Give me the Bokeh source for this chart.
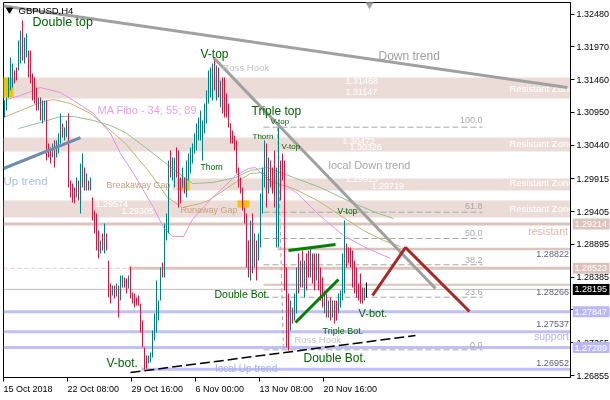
from bokeh.plotting import figure
from bokeh.models import Range1d, FixedTicker, NumeralTickFormatter
from bokeh.core.properties import value
from bokeh.embed import file_html
from bokeh.resources import INLINE

FONT = "Liberation Sans"

# ---------------- data: H4 bars (high / low / direction) ----------------
highs = [1.31134, 1.31181, 1.31492, 1.31803, 1.31710, 1.31601, 1.31647, 1.32068, 1.32223, 1.32379,
         1.32114, 1.32177, 1.31912, 1.31912, 1.31554, 1.31492, 1.31336, 1.31181, 1.31181, 1.31134,
         1.31134, 1.31134, 1.30465, 1.30403, 1.30465, 1.30512, 1.30512, 1.30621, 1.30932, 1.30776,
         1.30714, 1.30823, 1.30932, 1.29889, 1.29843, 1.29780, 1.29936, 1.29889, 1.30154, 1.30309,
         1.30091, 1.29998, 1.29889, 1.29936, 1.29625, 1.29422, 1.29376, 1.29111, 1.28956, 1.29065,
         1.29220, 1.29065, 1.28644, 1.28287, 1.28255, 1.28255, 1.28287, 1.28255, 1.28411, 1.28411,
         1.28380, 1.28364, 1.28411, 1.28551, 1.28147, 1.28131, 1.28069, 1.28100, 1.27975, 1.27711,
         1.27291, 1.27166, 1.27166, 1.27213, 1.27555, 1.27820, 1.28333, 1.28022, 1.28535, 1.28613,
         1.29220, 1.29376, 1.30200, 1.30356, 1.30247, 1.30247, 1.30403, 1.30356, 1.29936, 1.30091,
         1.29936, 1.30200, 1.30309, 1.30403, 1.30465, 1.30621, 1.30776, 1.30869, 1.30978, 1.30823,
         1.31087, 1.31290, 1.31601, 1.31647, 1.31710, 1.31772, 1.31679, 1.31647, 1.31445, 1.31492,
         1.31492, 1.31243, 1.31087, 1.30776, 1.30667, 1.30589, 1.30512, 1.30091, 1.29936, 1.29780,
         1.29469, 1.29376, 1.28956, 1.29267, 1.29376, 1.29065, 1.28956, 1.29065, 1.29687, 1.30091,
         1.30512, 1.30465, 1.30247, 1.30200, 1.30091, 1.30356, 1.30091, 1.30714, 1.30200, 1.30309,
         1.30200, 1.28535, 1.28131, 1.28022, 1.27913, 1.28131, 1.28535, 1.28753, 1.28644, 1.28800,
         1.28644, 1.28753, 1.28800, 1.28847, 1.28753, 1.28753, 1.28753, 1.28753, 1.28535, 1.28380,
         1.28178, 1.28131, 1.28022, 1.28069, 1.28022, 1.28022, 1.28022, 1.28131, 1.28178, 1.28753,
         1.29267, 1.28909, 1.28847, 1.28847, 1.28800, 1.28644, 1.28535, 1.28287, 1.28442, 1.28224,
         1.28224, 1.28302]
lows = [1.30869, 1.30978, 1.31181, 1.31290, 1.31336, 1.31399, 1.31445, 1.31601, 1.31710, 1.31756,
        1.31710, 1.31803, 1.31492, 1.31399, 1.31134, 1.31087, 1.30978, 1.30978, 1.30823, 1.30776,
        1.30823, 1.30200, 1.30247, 1.30154, 1.30247, 1.30091, 1.30247, 1.30309, 1.30465, 1.30558,
        1.30512, 1.30558, 1.29780, 1.29625, 1.29547, 1.29531, 1.29625, 1.29578, 1.29376, 1.29780,
        1.29734, 1.29734, 1.29734, 1.29734, 1.29267, 1.29065, 1.28800, 1.28676, 1.28753, 1.28800,
        1.28753, 1.28800, 1.28069, 1.27975, 1.28100, 1.28053, 1.28084, 1.27757, 1.28022, 1.28224,
        1.28224, 1.28131, 1.28209, 1.28053, 1.27975, 1.27913, 1.27944, 1.27944, 1.27524, 1.27291,
        1.26948, 1.26964, 1.27042, 1.27057, 1.27135, 1.27400, 1.27524, 1.27711, 1.28022, 1.28380,
        1.28380, 1.28956, 1.29065, 1.29936, 1.29889, 1.29780, 1.29936, 1.29469, 1.29531, 1.29780,
        1.29687, 1.29625, 1.29889, 1.29998, 1.30154, 1.30309, 1.30356, 1.30512, 1.30512, 1.30200,
        1.30621, 1.30776, 1.31087, 1.31181, 1.31134, 1.31290, 1.31134, 1.31181, 1.31025, 1.30932,
        1.30869, 1.30869, 1.30714, 1.30465, 1.30465, 1.30356, 1.29998, 1.29780, 1.29687, 1.29422,
        1.29220, 1.28535, 1.28380, 1.28333, 1.28442, 1.28535, 1.28333, 1.28644, 1.28847, 1.29376,
        1.29780, 1.29469, 1.29687, 1.29780, 1.29687, 1.29469, 1.28847, 1.28847, 1.29578, 1.29889,
        1.28178, 1.27291, 1.27244, 1.27555, 1.27664, 1.27711, 1.27820, 1.28131, 1.28224, 1.28224,
        1.28069, 1.28178, 1.28380, 1.28380, 1.28287, 1.28178, 1.28333, 1.28178, 1.28022, 1.27913,
        1.27820, 1.27757, 1.27757, 1.27711, 1.27757, 1.27664, 1.27711, 1.27820, 1.27913, 1.28022,
        1.28131, 1.28535, 1.28598, 1.28535, 1.28224, 1.28131, 1.28069, 1.28022, 1.27975, 1.27975,
        1.28022, 1.28069]
directions = list("uuuuudduud" "uudddddudu" "uddduduuud" "uudddduduu" "dududdddud"
                  "udddududuu" "dduddddddd" "dduuuuuuud" "uuuduudddu" "duuuuuuuuu"
                  "uuuuududud" "dddddddddd" "dddududuuu" "ududdduudd" "ddduduudud"
                  "uddudduddd" "udududduuu" "uddddddddd" "uu")

# x-axis: period starts (bar slot edges) and their labels
x_tick_pos = [-0.5, 31.5, 63.5, 95.5, 127.5, 159.5]
x_tick_labels = ["15 Oct 2018", "22 Oct 08:00", "29 Oct 16:00", "6 Nov 00:00", "13 Nov 08:00", "20 Nov 16:00"]
y_ticks = [1.32480, 1.31970, 1.31460, 1.30950, 1.30440, 1.29915, 1.29405, 1.28895, 1.28385,
           1.27875, 1.27365, 1.26855]

# moving averages (MA Fibo 34 / 55 / 89): (bar index, price)
ma34_x = [-0.5, 8, 18, 28, 34.5, 44.5, 53, 58, 64.5, 74.5, 79.5, 84, 89.5, 94, 98, 104, 110.5, 115.5,
          122, 125.5, 132, 141.5, 146.5, 156.5, 169.5, 179.5, 193]
ma34_y = [1.31134, 1.31212, 1.31336, 1.31258, 1.31134, 1.30932, 1.30621, 1.30309, 1.29998, 1.29469,
          1.29158, 1.29018, 1.29018, 1.29282, 1.29422, 1.29625, 1.29811, 1.29967, 1.30076, 1.30091,
          1.29889, 1.29796, 1.29687, 1.29376, 1.29033, 1.28862, 1.28676]
ma55_x = [-0.5, 8, 18, 24.5, 33, 43, 53, 60.5, 73, 81.5, 89, 98, 102, 115.5, 123, 129, 134, 144.5,
          156.5, 169.5, 179.5, 189.5, 198]
ma55_y = [1.30869, 1.30978, 1.31103, 1.31150, 1.31087, 1.30932, 1.30667, 1.30465, 1.29998, 1.29625,
          1.29469, 1.29531, 1.29578, 1.29858, 1.29998, 1.30014, 1.29858, 1.29765, 1.29578, 1.29313,
          1.29111, 1.28956, 1.28862]
ma89_x = [7, 18, 28, 34.5, 44.5, 53, 60.5, 70.5, 82, 94, 104, 115.5, 123, 131.5, 144.5, 158, 171.5,
          185.5, 194.5]
ma89_y = [1.30698, 1.30792, 1.30885, 1.30885, 1.30823, 1.30745, 1.30636, 1.30403, 1.30123, 1.29843,
          1.29858, 1.29936, 1.30045, 1.30091, 1.29936, 1.29780, 1.29578, 1.29391, 1.29298]

# resistance zones: left, right (bar index), bottom, top (price)
zone_left = [-0.5, -0.5, 84, -0.5]
zone_right = [283, 283, 283, 283]
zone_bottom = [1.31165, 1.30340, 1.29734, 1.29313]
zone_top = [1.31492, 1.30558, 1.29920, 1.29578]
zone_label_y = [1.31321, 1.30465, 1.29858, 1.29458]
zone_price_text = ["1.31468", "1.31147", "1.30472", "1.30326", "1.29915", "1.29719", "1.29574", "1.29305"]
zone_price_x = [170.5, 170.5, 169, 172.5, 170.5, 183.5, 45.5, 58.5]
zone_price_y = [1.31430, 1.31263, 1.30504, 1.30410, 1.29920, 1.29811, 1.29531, 1.29415]

# gap boxes
gap_left = [-0.5, 86.5, 116.5]
gap_right = [4.5, 92.5, 122.5]
gap_bottom = [1.31181, 1.29734, 1.29469]
gap_top = [1.31492, 1.29920, 1.29578]

# horizontal levels
res_levels = [1.29214, 1.28523, 1.28822, 1.28266]
res_start = [-0.5, 62, 136.5, 129.5]
res_width = [3, 3, 2.5, 2]
sup_levels = [1.27847, 1.27537, 1.27289, 1.26952]
sup_start = [-0.5, -0.5, -0.5, 68.5]
bid_price = 1.28195

# Fibonacci retracement
fib_ratios = ["0.0", "23.6", "38.2", "50.0", "61.8", "100.0"]
fib_prices = [1.27255, 1.28073, 1.28578, 1.28987, 1.29396, 1.30719]
fib_label_prices = [1.27337, 1.28147, 1.28660, 1.29065, 1.29485, 1.30823]
fib_x0, fib_x1 = 129.5, 239
fib_diag_x = [136.5, 139.5]
fib_diag_y = [1.30719, 1.27255]

# trend lines
down_x, down_y = [-0.5, 281.5], [1.32604, 1.31336]
ldown_x, ldown_y = [104.5, 215.5], [1.31803, 1.28209]
up_x, up_y = [-0.5, 38], [1.30076, 1.30558]
lup_x, lup_y = [63, 205.5], [1.26902, 1.27477]
green1_x, green1_y = [142, 165.5], [1.28800, 1.28893]
green2_x, green2_y = [145.5, 167], [1.27680, 1.28349]
red_x, red_y = [184, 200.5, 232.5], [1.28100, 1.28847, 1.27851]

# text annotations: text, x(bar index), price, color, size, align
notes = [
    ("GBPUSD,H4", 7, 1.32534, "#000000", "9.5px", "left"),
    ("Double top", 14, 1.32355, "#006400", "12.5px", "left"),
    ("MA Fibo - 34; 55; 89", 46.5, 1.30994, "#e6a0e6", "11px", "left"),
    ("V-top", 98, 1.31865, "#006400", "12px", "left"),
    ("Ross Hook", 109, 1.31647, "#c0c0c0", "9.5px", "left"),
    ("Triple top", 123.5, 1.30978, "#006400", "12px", "left"),
    ("V-top", 133, 1.30807, "#006400", "8px", "left"),
    ("Thorn", 124, 1.30574, "#006400", "8px", "left"),
    ("Thorn", 98, 1.30099, "#006400", "8.5px", "left"),
    ("V-top", 138.5, 1.30418, "#006400", "8px", "left"),
    ("V-top", 166.5, 1.29407, "#006400", "8.5px", "left"),
    ("Breakaway Gap", 51, 1.29819, "#c8a080", "9px", "left"),
    ("Runaway Gap", 88, 1.29438, "#c8a080", "9px", "left"),
    ("Up trend", -0.5, 1.29874, "#a8c0e0", "11.5px", "left"),
    ("Down trend", 187, 1.31819, "#a0a0a0", "12px", "left"),
    ("local Down trend", 162, 1.30123, "#a8a8a8", "11px", "left"),
    ("Double Bot.", 105, 1.28131, "#006400", "10.5px", "left"),
    ("Triple Bot.", 159, 1.27555, "#006400", "9px", "left"),
    ("Ross Hook", 145, 1.27423, "#c0c0c0", "9.5px", "left"),
    ("Double Bot.", 149.5, 1.27135, "#006400", "12px", "left"),
    ("V-bot.", 177, 1.27835, "#006400", "11px", "left"),
    ("V-bot.", 51, 1.27049, "#006400", "12px", "left"),
    ("local  Up trend", 105.5, 1.26964, "#a8b4d8", "10px", "left"),
    ("support", 282.2, 1.27462, "#b4b4f0", "10.5px", "right"),
    ("resistant", 281.7, 1.29111, "#d8b8a8", "10.5px", "right"),
    ("1.28822", 282.2, 1.28738, "#606080", "9px", "right"),
    ("1.28266", 282.2, 1.28162, "#606080", "9px", "right"),
    ("1.27537", 282.2, 1.27664, "#606080", "9px", "right"),
    ("1.26952", 282.2, 1.27042, "#606080", "9px", "right"),
]

# price boxes on the right axis
box_text = ["1.29214", "1.28523", "1.28195", "1.27847", "1.27289"]
box_price = [1.29214, 1.28523, 1.28195, 1.27847, 1.27289]
box_color = ["#dcc4bc", "#dcc4bc", "#000000", "#b8b8f8", "#b8b8f8"]

# ---------------- main figure ----------------
p = figure(x_range=Range1d(-0.5, 283), y_range=Range1d(1.26824, 1.32659),
           frame_width=567, frame_height=375, min_border_left=3, min_border_top=2,
           min_border_right=38, min_border_bottom=0, y_axis_location="right",
           output_backend="svg", toolbar_location=None,
           background_fill_color="white", border_fill_color="white")
p.styles = {"position": "fixed", "left": "0px", "top": "0px"}
p.outline_line_color = "black"
p.outline_line_width = 1
p.xgrid.visible = False
p.ygrid.visible = False

for ax in (p.xaxis[0], p.yaxis[0]):
    ax.axis_line_color = "black"
    ax.major_tick_line_color = "black"
    ax.minor_tick_line_color = None
    ax.major_tick_in = 0
    ax.major_tick_out = 4
    ax.major_label_text_font = FONT
    ax.major_label_text_font_size = "9px"
    ax.major_label_text_color = "black"
    ax.major_label_standoff = 2

# bottom axis: visible (minor) ticks at period starts, labels centred just right of them
label_half = [12.3, 12.9, 12.9, 12.1, 13.4, 13.4]   # half label widths in bar units
lab_pos = [t + h for t, h in zip(x_tick_pos, label_half)]
xax = p.xaxis[0]
xax.ticker = FixedTicker(ticks=lab_pos, minor_ticks=x_tick_pos)
xax.major_label_overrides = dict(zip(lab_pos, x_tick_labels))
xax.major_tick_line_color = None
xax.minor_tick_line_color = "black"
xax.minor_tick_in = 0
xax.minor_tick_out = 4

p.yaxis.ticker = FixedTicker(ticks=y_ticks)
p.yaxis.formatter = NumeralTickFormatter(format="0.00000")

# zones
p.quad(left=zone_left, right=zone_right, bottom=zone_bottom, top=zone_top,
       fill_color="#ecdcd8", line_color=None)
# resistance lines
for lv, st, w in zip(res_levels, res_start, res_width):
    p.segment(x0=[st], y0=[lv], x1=[283], y1=[lv], line_color="#dcc4bc", line_width=w)
p.segment(x0=[-0.5], y0=[res_levels[1]], x1=[res_start[1]], y1=[res_levels[1]],
          line_color="#e8c8c8", line_width=1, line_dash="4 3")
# support lines
for lv, st in zip(sup_levels, sup_start):
    p.segment(x0=[st], y0=[lv], x1=[283], y1=[lv], line_color="#c0c0f8", line_width=3)
# bid line
p.segment(x0=[-0.5], y0=[bid_price], x1=[283], y1=[bid_price], line_color="#c0c0c0", line_width=1)

# fibo
p.segment(x0=[fib_x0] * len(fib_prices), y0=fib_prices, x1=[fib_x1] * len(fib_prices), y1=fib_prices,
          line_color="#a8a8a8", line_width=1, line_dash="6 3")
p.line(fib_diag_x, fib_diag_y, line_color="#a8a8a8", line_width=1, line_dash="4 3")
p.text(x=[fib_x1] * len(fib_ratios), y=fib_label_prices, text=fib_ratios, text_color="#a8a8a8",
       text_font=value(FONT), text_font_size=value("9px"), text_align="right", text_baseline="middle")

# gap boxes
p.quad(left=gap_left, right=gap_right, bottom=gap_bottom, top=gap_top, fill_color="#f5c400", line_color=None)

# zone texts
p.text(x=[284.5] * len(zone_label_y), y=zone_label_y, text=["Resistant Zone"] * len(zone_label_y),
       text_color="white", text_font=value(FONT), text_font_size=value("9.5px"),
       text_align="right", text_baseline="middle")
p.text(x=zone_price_x, y=zone_price_y, text=zone_price_text, text_color="white",
       text_font=value(FONT), text_font_size=value("9px"), text_align="left", text_baseline="middle")

# moving averages
p.line(ma89_x, ma89_y, line_color="#90c090", line_width=1)
p.line(ma55_x, ma55_y, line_color="#bdb66b", line_width=1)
p.line(ma34_x, ma34_y, line_color="#e690e6", line_width=1)

# bars
idx = list(range(len(highs)))
colors = ["#008080" if d == "u" else "#dc143c" for d in directions]
colors[-1] = "#000000"
p.segment(x0=idx, y0=lows, x1=idx, y1=highs, line_color=colors, line_width=1)

# trend lines
p.line(down_x, down_y, line_color="#a0a0a0", line_width=3)
p.line(ldown_x, ldown_y, line_color="#a0a0a0", line_width=3)
p.line(up_x, up_y, line_color="#6e8cb0", line_width=3)
p.line(lup_x, lup_y, line_color="black", line_width=1.5, line_dash="10 4")
p.line(green1_x, green1_y, line_color="#008000", line_width=3)
p.line(green2_x, green2_y, line_color="#008000", line_width=3)
p.line(red_x, red_y, line_color="#a82828", line_width=3)

# markers
p.scatter(x=[2.5], y=[1.32545], marker="inverted_triangle", size=6, fill_color="black", line_color="black")
p.scatter(x=[182.5], y=[1.32628], marker="inverted_triangle", size=7, fill_color="#a0a0a0", line_color="#a0a0a0")

# text notes
for t, x, y, c, s, a in notes:
    p.text(x=[x], y=[y], text=[t], text_color=c, text_font=value(FONT), text_font_size=value(s),
           text_align=a, text_baseline="middle")

# ---------------- price boxes over the right axis (shares the price scale) ----------------
p2 = figure(x_range=Range1d(0, 38), y_range=p.y_range, frame_width=38, frame_height=375,
            x_axis_location=None, y_axis_location=None, min_border=0,
            output_backend="svg", toolbar_location=None,
            background_fill_alpha=0, border_fill_alpha=0, outline_line_color=None)
p2.styles = {"position": "fixed", "left": "572px", "top": "2px"}
p2.grid.visible = False
p2.rect(x=[18.5] * len(box_price), y=box_price, width=37, height=11, height_units="screen",
        fill_color=box_color, line_color=None)
p2.text(x=[2] * len(box_price), y=box_price, text=box_text, text_color="white",
        text_font=value(FONT), text_font_size=value("9px"), text_align="left", text_baseline="middle")

open("out.html", "w").write(file_html([p, p2], INLINE))
